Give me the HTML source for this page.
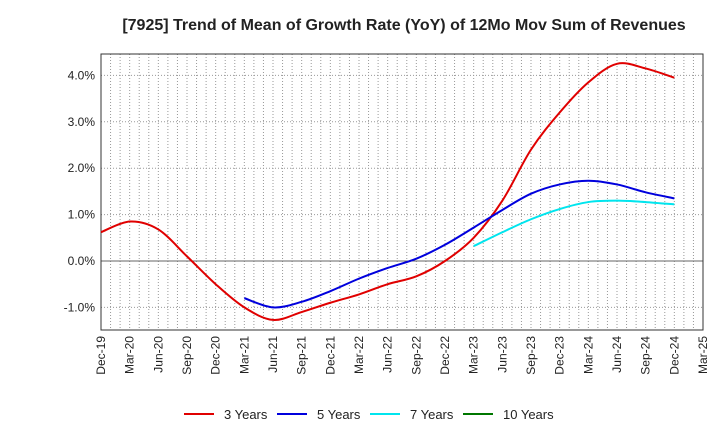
<!DOCTYPE html>
<html><head><meta charset="utf-8"><style>
body{margin:0;background:#fff;font-family:"Liberation Sans",sans-serif}
</style></head><body>
<svg id="c" width="720" height="440" xmlns="http://www.w3.org/2000/svg">
<text x="404" y="30" text-anchor="middle" font-size="16" font-weight="bold" fill="#222">[7925]  Trend of Mean of Growth Rate (YoY) of 12Mo Mov Sum of Revenues</text>
<g id="grid"></g><g id="axes"></g><g id="series"></g><g id="legend"></g>
</svg>
<script>
const xLabels=["Dec-19","Mar-20","Jun-20","Sep-20","Dec-20","Mar-21","Jun-21","Sep-21","Dec-21","Mar-22","Jun-22","Sep-22","Dec-22","Mar-23","Jun-23","Sep-23","Dec-23","Mar-24","Jun-24","Sep-24","Dec-24","Mar-25"];
const yTicks=[-1,0,1,2,3,4];
const s3=[0.62,0.85,0.68,0.1,-0.5,-1.0,-1.27,-1.1,-0.9,-0.72,-0.5,-0.33,0.0,0.5,1.3,2.4,3.2,3.85,4.25,4.15,3.95];
const s5=[null,null,null,null,null,-0.8,-1.0,-0.88,-0.65,-0.38,-0.15,0.05,0.35,0.72,1.1,1.45,1.65,1.73,1.65,1.48,1.35];
const s7=[null,null,null,null,null,null,null,null,null,null,null,null,null,0.32,0.62,0.9,1.12,1.27,1.3,1.27,1.22];
const s10=[];
const L=101,R=703,T=54,B=330,NS="http://www.w3.org/2000/svg";
const X=i=>L+(R-L)*i/21, Y=v=>261-v*46.4;
function mk(t,a,p){const e=document.createElementNS(NS,t);for(const k in a)e.setAttribute(k,a[k]);p.appendChild(e);return e;}
const g=document.getElementById('grid'),ax=document.getElementById('axes'),sg=document.getElementById('series'),lg=document.getElementById('legend');
for(let m=1;m<63;m++){const x=L+(R-L)*m/63;const l=mk('line',{x1:x,x2:x,y1:T,y2:B,stroke:'#999','stroke-dasharray':'1,2','stroke-width':1},g);

}
yTicks.forEach(v=>{const l=mk('line',{x1:L,x2:R,y1:Y(v),y2:Y(v),stroke:v===0?'#666':'#999','stroke-dasharray':v===0?'none':'1,2','stroke-width':1},g);


const t=mk('text',{x:L-6,y:Y(v)+4,'text-anchor':'end','font-size':12,fill:'#222'},ax);t.textContent=v.toFixed(1)+'%';

});
const fr=mk('rect',{x:L,y:T,width:R-L,height:B-T,fill:'none',stroke:'#333','stroke-width':1},ax);


xLabels.forEach((s,i)=>{const x=X(i);const t=mk('text',{x:x+4,y:B+6,'text-anchor':'end','font-size':12,fill:'#222',transform:`rotate(-90 ${x+4} ${B+6})`},ax);t.textContent=s;

});
function path(arr){const p=[];arr.forEach((v,i)=>{if(v!==null&&v!==undefined)p.push([X(i),Y(v)]);});if(p.length<2)return '';
let d=`M${p[0][0]},${p[0][1]}`;for(let i=0;i<p.length-1;i++){const p0=p[Math.max(0,i-1)],p1=p[i],p2=p[i+1],p3=p[Math.min(p.length-1,i+2)];
d+=` C${p1[0]+(p2[0]-p0[0])/6},${p1[1]+(p2[1]-p0[1])/6} ${p2[0]-(p3[0]-p1[0])/6},${p2[1]-(p3[1]-p1[1])/6} ${p2[0]},${p2[1]}`;}return d;}
const ser=[[s3,'#e00000','3 Years','series-3-years'],[s5,'#0000dd','5 Years','series-5-years'],[s7,'#00e5ee','7 Years','series-7-years'],[s10,'#007700','10 Years','series-10-years']];
ser.forEach(([a,c,n,dn])=>{const d=path(a);if(d){const e=mk('path',{d:d,fill:'none',stroke:c,'stroke-width':2},sg);

}});
const lx=[184,277,370,463];
ser.forEach(([a,c,n],i)=>{const gg=mk('g',{},lg);


mk('line',{x1:lx[i],x2:lx[i]+30,y1:414,y2:414,stroke:c,'stroke-width':2},gg);
const t=mk('text',{x:lx[i]+40,y:419,'font-size':13,fill:'#222'},gg);t.textContent=n;});
</script>
</body></html>
